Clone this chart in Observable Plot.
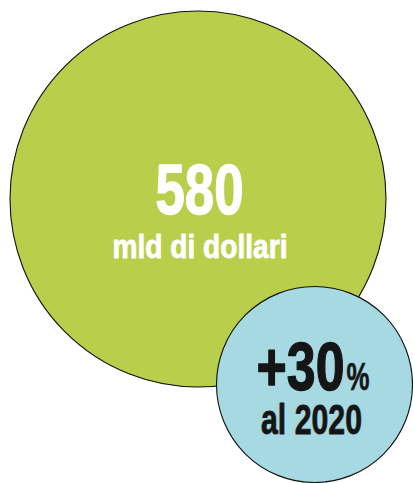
<!DOCTYPE html>
<html>
<head>
<meta charset="utf-8">
<script src="https://cdn.jsdelivr.net/npm/d3@7"></script>
<script src="https://cdn.jsdelivr.net/npm/@observablehq/plot@0.6"></script>
<style>
  html, body { margin: 0; padding: 0; background: #fff; }
  #chart svg { display: block; }
</style>
</head>
<body>
<div id="chart"></div>
<script>
// ---- data ----
const bubbleNames = ["mercato", "crescita"];
const bubbleValues = [580, 30];
const valueLabels = ["580", "+30"];
const valueSuffixes = ["", "%"];
const unitLabels = ["mld di dollari", "al 2020"];

// ---- layout (not data) ----
const W = 413, H = 483;
const layout = {
  mercato:  {cx: 197.5, cy: 198.5, r: 188, fill: "#b9cf4c", ink: "#ffffff",
             big: 71, bigW: 88, bigDx: 1.5, bigDy: 14.5,
             small: 33, smallW: 175, smallDx: 2, smallDy: 58.5},
  crescita: {cx: 314,   cy: 384,   r: 98,  fill: "#a6d9e2", ink: "#151515",
             big: 68, bigW: 88, bigDx: 30, bigDy: 5,
             sufSize: 38, sufW: 23,
             small: 42, smallW: 101, smallDx: -3, smallDy: 49}
};

const bubbles = bubbleNames.map((name, i) => ({
  name,
  value: bubbleValues[i],
  label: valueLabels[i],
  suffix: valueSuffixes[i],
  unit: unitLabels[i],
  ...layout[name]
}));

const font = "'Liberation Sans', Arial, sans-serif";
const common = {fill: "ink", stroke: "ink", fontWeight: "bold", fontFamily: font, lineAnchor: "bottom"};

const mainPlain = bubbles.filter(d => !d.suffix);
const mainSplit = bubbles.filter(d => d.suffix);

const chart = Plot.plot({
  width: W,
  height: H,
  margin: 0,
  x: {domain: [0, W], range: [0, W], axis: null},
  y: {domain: [0, H], range: [0, H], axis: null},
  r: {type: "identity"},
  marks: [
    Plot.dot(bubbles, {x: "cx", y: "cy", r: "r", fill: "fill", stroke: "#111", strokeWidth: 1.1}),
    Plot.text(mainPlain, {...common, strokeWidth: 1.4,
      x: d => d.cx + d.bigDx, y: d => d.cy + d.bigDy, text: "label", fontSize: d => d.big, textAnchor: "middle"}),
    Plot.text(mainSplit, {...common, strokeWidth: 1.4,
      x: d => d.cx + d.bigDx, y: d => d.cy + d.bigDy, text: "label", fontSize: d => d.big, textAnchor: "end"}),
    Plot.text(mainSplit, {...common, strokeWidth: 0.6,
      x: d => d.cx + d.bigDx + 2, y: d => d.cy + d.bigDy, text: "suffix", fontSize: d => d.sufSize, textAnchor: "start"}),
    Plot.text(bubbles, {...common, strokeWidth: 0.8,
      x: d => d.cx + d.smallDx, y: d => d.cy + d.smallDy, text: "unit", fontSize: d => d.small, textAnchor: "middle"})
  ]
});

// condense glyphs to the narrow face used in the original
const widths = new Map();
bubbles.forEach(d => {
  widths.set(d.label, d.bigW);
  widths.set(d.unit, d.smallW);
  if (d.suffix) widths.set(d.suffix, d.sufW);
});
d3.select(chart).selectAll("text").each(function() {
  const w = widths.get(this.textContent);
  if (w) d3.select(this).attr("textLength", w).attr("lengthAdjust", "spacingAndGlyphs");
});

document.getElementById("chart").appendChild(chart);
</script>
</body>
</html>
